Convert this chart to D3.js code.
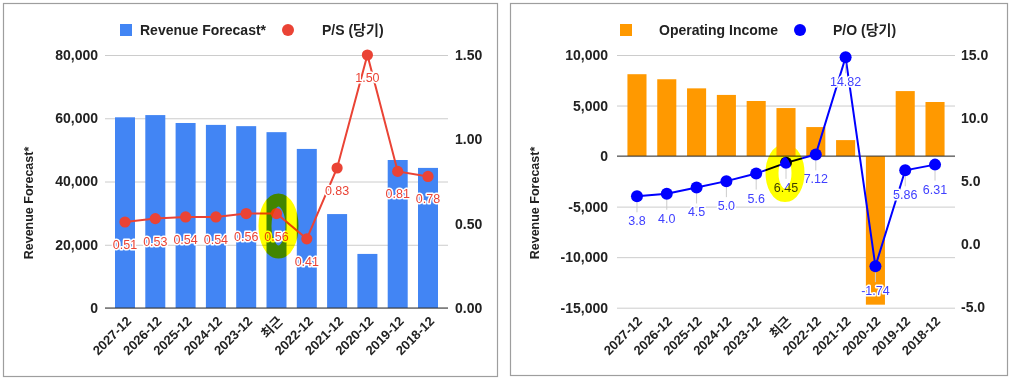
<!DOCTYPE html>
<html>
<head>
<meta charset="utf-8">
<script src="https://cdn.jsdelivr.net/npm/d3@7"></script>
<style>
  html, body { margin: 0; padding: 0; background: #fff; }
  svg { display: block; font-family: "Liberation Sans", Arial, "Noto Sans CJK KR", sans-serif; }
</style>
</head>
<body>
<svg id="chart" width="1012" height="379"></svg>
<script>
// ---------- data ----------
const categories = ["2027-12", "2026-12", "2025-12", "2024-12", "2023-12", "최근", "2022-12", "2021-12", "2020-12", "2019-12", "2018-12"];
const revenue = [60300, 61000, 58500, 57900, 57500, 55600, 50300, 29700, 17100, 46800, 44300];
const psRatio = [0.51, 0.53, 0.54, 0.54, 0.56, 0.56, 0.41, 0.83, 1.50, 0.81, 0.78];
const psLabels = ["0.51", "0.53", "0.54", "0.54", "0.56", "0.56", "0.41", "0.83", "1.50", "0.81", "0.78"];
const operatingIncome = [8100, 7600, 6700, 6050, 5450, 4750, 2870, 1580, -14700, 6430, 5350];
const poRatio = [3.8, 4.0, 4.5, 5.0, 5.6, 6.45, 7.12, 14.82, -1.74, 5.86, 6.31];
const poLabels = ["3.8", "4.0", "4.5", "5.0", "5.6", "6.45", "7.12", "14.82", "-1.74", "5.86", "6.31"];
const revTicks = [0, 20000, 40000, 60000, 80000];
const psTicks = [0, 0.5, 1.0, 1.5];
const opTicks = [-15000, -10000, -5000, 0, 5000, 10000];
const poTicks = [-5, 0, 5, 10, 15];
const highlightCategory = "최근";

const svg = d3.select("#chart");
const locale = d3.formatLocale({ decimal: ".", thousands: ",", grouping: [3], currency: ["", ""], minus: "-" });
const fmtInt = locale.format(",");

function panel(cfg) {
  const g = svg.append("g");
  // border
  g.append("rect").attr("x", cfg.box[0] + 0.5).attr("y", cfg.box[1] + 0.5)
    .attr("width", cfg.box[2]).attr("height", cfg.box[3])
    .attr("fill", "#fff").attr("stroke", "#9e9e9e").attr("stroke-width", 1.2);

  const x = d3.scaleBand().domain(categories).range([cfg.x0, cfg.x1])
    .paddingInner(cfg.pi).paddingOuter(cfg.po);
  const yL = d3.scaleLinear().domain(cfg.lDomain).range(cfg.lRange);
  const yR = d3.scaleLinear().domain(cfg.rDomain).range(cfg.rRange);

  // gridlines
  const grid = g.append("g").attr("transform", `translate(${cfg.x0},0)`)
    .call(d3.axisLeft(yL).tickValues(cfg.lTicks).tickSize(-(cfg.x1 - cfg.x0)).tickFormat(""));
  grid.select(".domain").remove();
  grid.selectAll("line").attr("stroke", "#cccccc");

  // bars
  g.append("g").selectAll("rect").data(cfg.bars).join("rect")
    .attr("x", (d, i) => x(categories[i]))
    .attr("width", x.bandwidth())
    .attr("y", d => Math.min(yL(d), yL(0)))
    .attr("height", d => Math.abs(yL(d) - yL(0)))
    .attr("fill", cfg.barColor);

  // zero baseline
  g.append("line").attr("x1", cfg.x0).attr("x2", cfg.x1)
    .attr("y1", yL(0)).attr("y2", yL(0)).attr("stroke", "#333").attr("stroke-width", 1);

  // left axis
  const ax = g.append("g").attr("transform", `translate(${cfg.x0},0)`)
    .call(d3.axisLeft(yL).tickValues(cfg.lTicks).tickSize(0).tickPadding(cfg.lPad).tickFormat(fmtInt));
  ax.select(".domain").remove();
  ax.selectAll("text").attr("font-size", 14).attr("font-weight", "bold").attr("fill", "#222")
    .attr("font-family", "'Liberation Sans', Arial, sans-serif");

  // right axis
  const ar = g.append("g").attr("transform", `translate(${cfg.x1},0)`)
    .call(d3.axisRight(yR).tickValues(cfg.rTicks).tickSize(0).tickPadding(cfg.rPad).tickFormat(locale.format(cfg.rFmt)));
  ar.select(".domain").remove();
  ar.selectAll("text").attr("font-size", 14).attr("font-weight", "bold").attr("fill", "#222")
    .attr("font-family", "'Liberation Sans', Arial, sans-serif");

  // x axis labels
  const cx = c => x(c) + x.bandwidth() / 2;
  g.append("g").selectAll("text").data(categories).join("text")
    .attr("transform", c => `translate(${cx(c) + cfg.xlDx},${cfg.xlY}) rotate(-45)`)
    .attr("text-anchor", "end")
    .attr("font-size", 13).attr("font-weight", "bold").attr("fill", "#222")
    .text(c => c);

  // axis title
  g.append("text")
    .attr("transform", `translate(${cfg.titleX},203) rotate(-90)`)
    .attr("text-anchor", "middle").attr("dy", "0.35em")
    .attr("font-size", 12.5).attr("font-weight", "bold").attr("fill", "#222")
    .text("Revenue Forecast*");

  // line
  const line = d3.line().x((d, i) => cx(categories[i])).y(d => yR(d));
  g.append("path").datum(cfg.line).attr("d", line)
    .attr("fill", "none").attr("stroke", cfg.lineColor).attr("stroke-width", 2);

  // stems
  if (cfg.stems) {
    g.append("g").selectAll("line").data(cfg.line).join("line")
      .attr("x1", (d, i) => cx(categories[i])).attr("x2", (d, i) => cx(categories[i]))
      .attr("y1", d => yR(d) + 6).attr("y2", d => yR(d) + 16)
      .attr("stroke", "#cccccc").attr("stroke-width", 1);
  }

  // points
  g.append("g").selectAll("circle").data(cfg.line).join("circle")
    .attr("cx", (d, i) => cx(categories[i])).attr("cy", d => yR(d))
    .attr("r", cfg.r).attr("fill", cfg.lineColor);

  // data labels
  g.append("g").selectAll("text").data(cfg.line).join("text")
    .attr("x", (d, i) => cx(categories[i]))
    .attr("y", d => yR(d) + cfg.labDy)
    .attr("text-anchor", "middle")
    .attr("font-size", 12.5)
    .attr("fill", cfg.labColor)
    .attr("stroke", "#fff").attr("stroke-width", 3).attr("stroke-linejoin", "round")
    .attr("paint-order", "stroke")
    .text((d, i) => cfg.labels[i]);

  // legend
  const lg = g.append("g");
  lg.append("rect").attr("x", cfg.leg[0]).attr("y", 24).attr("width", 12).attr("height", 12)
    .attr("fill", cfg.barColor);
  lg.append("text").attr("x", cfg.leg[1]).attr("y", 35)
    .attr("font-size", 14).attr("font-weight", "bold").attr("fill", "#222").text(cfg.legA);
  lg.append("circle").attr("cx", cfg.leg[2]).attr("cy", 30).attr("r", 6).attr("fill", cfg.lineColor);
  lg.append("text").attr("x", cfg.leg[3]).attr("y", 35)
    .attr("font-size", 14).attr("font-weight", "bold").attr("fill", "#222").text(cfg.legB);

  // hand-drawn highlight (yellow marker, multiply)
  const hi = categories.indexOf(highlightCategory);
  g.append("ellipse")
    .attr("cx", cx(categories[hi]) + cfg.hl[0]).attr("cy", cfg.hl[1])
    .attr("rx", cfg.hl[2]).attr("ry", cfg.hl[3])
    .attr("fill", "none").attr("stroke", "#ffff00").attr("stroke-width", 13)
    .style("mix-blend-mode", "multiply");
}

panel({
  box: [3, 3, 494, 373],
  x0: 105, x1: 448, pi: 0.34, po: 0.33,
  lDomain: [0, 80000], lRange: [308, 55],
  rDomain: [0, 1.5], rRange: [308, 55],
  lTicks: revTicks, rTicks: psTicks, rFmt: ".2f",
  lPad: 7, rPad: 7,
  bars: revenue, barColor: "#4285f4",
  line: psRatio, labels: psLabels, lineColor: "#ea4335", labColor: "#ea4335",
  r: 5.6, labDy: 27, stems: false,
  xlDx: 7, xlY: 322, titleX: 29,
  leg: [120, 140, 288, 322], legA: "Revenue Forecast*", legB: "P/S (당기)",
  hl: [2, 226, 13.5, 26]
});

panel({
  box: [510, 3, 497, 372],
  x0: 617, x1: 955, pi: 0.36, po: 0.35,
  lDomain: [-15000, 10000], lRange: [307.7, 55],
  rDomain: [-5, 15], rRange: [307.3, 55],
  lTicks: opTicks, rTicks: poTicks, rFmt: ".1f",
  lPad: 9, rPad: 6,
  bars: operatingIncome, barColor: "#ff9900",
  line: poRatio, labels: poLabels, lineColor: "#0000ff", labColor: "#4040ff",
  r: 6, labDy: 29, stems: true,
  xlDx: 6, xlY: 322, titleX: 535,
  leg: [620, 659, 800, 833], legA: "Operating Income", legB: "P/O (당기)",
  hl: [-1, 173, 13, 22.5]
});
</script>
</body>
</html>
